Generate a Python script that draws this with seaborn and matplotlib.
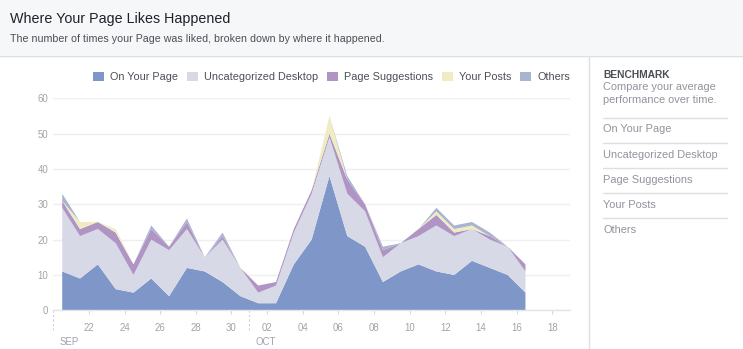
import numpy as np
import pandas as pd
import matplotlib
matplotlib.use("Agg")
import matplotlib.pyplot as plt
import matplotlib.dates as mdates
from matplotlib.patches import Rectangle, FancyBboxPatch
from matplotlib.lines import Line2D
import seaborn as sns

# Daily page likes by source (Sep 20 - Oct 16)
dates = pd.date_range("2016-09-20 12:00", periods=27, freq="D")
on_your_page = [11, 9, 13, 6, 5, 9, 4, 12, 11, 8, 4, 2, 2, 13, 20, 38, 21, 18, 8, 11, 13, 11, 10, 14, 12, 10, 5]
uncategorized_desktop = [18, 12, 10, 13, 5, 11, 13, 11, 4, 12, 8, 3, 5, 9, 13, 11, 12, 10, 7, 8, 8, 13, 11, 9, 8, 8, 6]
page_suggestions = [2, 2, 2, 3, 3, 3, 1, 2, 0, 1, 0, 2, 1, 1, 1, 1, 4, 2, 2, 0, 2, 3, 1, 0, 1, 0, 2]
your_posts = [0, 2, 0, 1, 0, 0, 0, 0, 0, 0, 0, 0, 0, 0, 0, 5, 0, 0, 0, 0, 0, 1, 1, 1, 0, 0, 0]
others = [2, 0, 0, 0, 0, 1, 0, 1, 0, 1, 0, 0, 0, 0, 0, 0, 1, 0, 1, 0, 0, 1, 1, 1, 1, 0, 0]

series_names = ["On Your Page", "Uncategorized Desktop", "Page Suggestions", "Your Posts", "Others"]
series_colors = ["#7f96c8", "#d7dae6", "#b095c4", "#f0ecc2", "#a9b5d0"]
y_ticks = [0, 10, 20, 30, 40, 50, 60]
benchmark_items = ["On Your Page", "Uncategorized Desktop", "Page Suggestions", "Your Posts", "Others"]

df = pd.DataFrame({
    "date": dates,
    "On Your Page": on_your_page,
    "Uncategorized Desktop": uncategorized_desktop,
    "Page Suggestions": page_suggestions,
    "Your Posts": your_posts,
    "Others": others,
})

sns.set_theme(style="white")
plt.rcParams["font.family"] = ["Liberation Sans", "DejaVu Sans"]

W, H = 743, 349
fig = plt.figure(figsize=(W / 100, H / 100), dpi=100)
fig.patch.set_facecolor("white")


def fx(x):
    return x / W


def fy(y):
    return 1 - y / H


# header band
fig.patches.append(Rectangle((0, fy(55)), 1, 55 / H, transform=fig.transFigure,
                             facecolor="#f6f7f9", edgecolor="none", zorder=0))
fig.add_artist(Line2D([0, 1], [fy(55.5), fy(55.5)], transform=fig.transFigure,
                      color="#dddfe2", lw=1))
fig.text(fx(10), fy(18.5), "Where Your Page Likes Happened", fontsize=10.3,
         color="#1d2129", va="center", ha="left")
fig.text(fx(10), fy(39), "The number of times your Page was liked, broken down by where it happened.",
         fontsize=7.7, color="#4b4f56", va="center", ha="left")

# sidebar
fig.add_artist(Line2D([fx(588.5), fx(588.5)], [fy(56), 0], transform=fig.transFigure,
                      color="#dddfe2", lw=1))
fig.text(fx(603), fy(75.5), "BENCHMARK", fontsize=7.4, fontweight="bold",
         color="#4b4f56", va="center", ha="left")
fig.text(fx(603), fy(87), "Compare your average", fontsize=7.9, color="#90949c",
         va="center", ha="left")
fig.text(fx(603), fy(100), "performance over time.", fontsize=7.9, color="#90949c",
         va="center", ha="left")
for i, item in enumerate(benchmark_items):
    ly = 117.5 + 25.2 * i
    fig.add_artist(Line2D([fx(603), fx(727)], [fy(ly), fy(ly)], transform=fig.transFigure,
                          color="#dddfe2", lw=1))
    fig.text(fx(603), fy(ly + 12), item, fontsize=7.9, color="#90949c",
             va="center", ha="left")

# chart area
ax = fig.add_axes([fx(53.3), fy(310.3), (570 - 53.3) / W, 212 / H])
ax.set_facecolor("white")
ax.stackplot(df["date"], [df[n] for n in series_names], colors=series_colors,
             labels=series_names, lw=0.6, edgecolor="none", zorder=2)

x0 = pd.Timestamp("2016-09-20")
x1 = pd.Timestamp("2016-10-19")
ax.set_xlim(x0, x1)
ax.set_ylim(0, 60)
ax.set_yticks(y_ticks)
ax.yaxis.grid(True, color="#efeff1", lw=1, zorder=0)
ax.xaxis.grid(False)
sns.despine(ax=ax, left=True, right=True, top=True, bottom=False)
ax.spines["bottom"].set_color("#e3e4e8")
ax.spines["bottom"].set_linewidth(1)
ax.tick_params(axis="y", length=0, pad=3.5, labelsize=6.9, labelcolor="#a0a3aa")

tick_days = pd.date_range("2016-09-22", "2016-10-18", freq="2D")
ax.set_xticks(tick_days)
ax.xaxis.set_major_formatter(mdates.DateFormatter("%d"))
ax.tick_params(axis="x", bottom=True, length=3, width=0.8, color="#d8d9dd",
               pad=6, labelsize=6.9, labelcolor="#a0a3aa")

# month separators and labels
trans = ax.get_xaxis_transform()
for d, lab in [(x0, "SEP"), (pd.Timestamp("2016-10-01"), "OCT")]:
    ax.plot([d, d], [0, -0.1], transform=trans, color="#cfd1d6", lw=0.8,
            ls=(0, (2, 2)), clip_on=False)
    ax.text(d + pd.Timedelta(hours=8), -0.15, lab, transform=trans, fontsize=6.9,
            color="#a0a3aa", ha="left", va="center")

# legend
handles = [FancyBboxPatch((0, 0), 1, 1, boxstyle="round,pad=0,rounding_size=0.15",
                          facecolor=c, edgecolor="none") for c in series_colors]
leg = fig.legend(handles, series_names, loc="center right",
                 bbox_to_anchor=(fx(570), fy(77)), ncol=5, frameon=False,
                 fontsize=7.8, handlelength=1.0, handleheight=1.0,
                 handletextpad=0.55, columnspacing=0.85, borderaxespad=0, borderpad=0)
for t in leg.get_texts():
    t.set_color("#4b4f56")

fig.savefig("out.png", dpi=100)
